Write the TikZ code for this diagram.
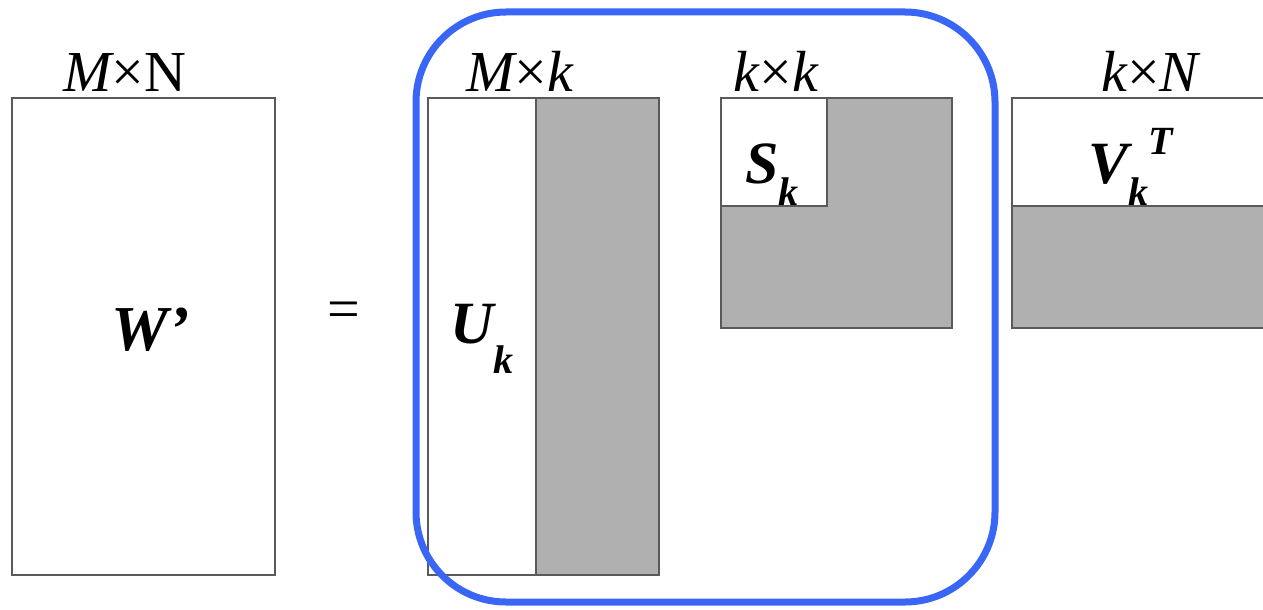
\documentclass[tikz,border=0pt]{standalone}
\usepackage{fontspec}
\setmainfont{Liberation Serif}
\definecolor{matgray}{HTML}{B0B0B0}
\definecolor{edgegray}{HTML}{5A5A5A}
\definecolor{boxblue}{HTML}{3A66F5}
\tikzset{
  matrixbox/.style={draw=edgegray, line width=1.6pt},
  graypart/.style={fill=matgray, draw=edgegray, line width=1.6pt},
  dimlabel/.style={inner sep=0pt, anchor=base, font=\fontsize{58}{64}\selectfont},
  namelabel/.style={inner sep=0pt, anchor=base west, font=\fontsize{60}{66}\selectfont\bfseries\itshape},
  groupbox/.style={draw=boxblue, line width=7pt, rounded corners=90pt}
}
\newcommand{\subk}[1]{\raisebox{-#1em}{\fontsize{40}{42}\selectfont k}}
\begin{document}
\begin{tikzpicture}[x=1pt,y=-1pt]
\useasboundingbox (0,0) rectangle (1263,610);
\clip (0,0) rectangle (1263,610);
% W'
\draw[matrixbox] (12,98) rectangle (275,575);
\node[dimlabel] (dimW) at (125,92) {\itshape M\upshape ×N};
\node[inner sep=0pt, font=\fontsize{64}{70}\selectfont\bfseries\itshape] (nameW) at (151,330) {W’};
\node[inner sep=0pt, font=\fontsize{58}{64}\selectfont] (eq) at (344,315) {=};
% U_k
\fill[white] (428,98) rectangle (536,575);
\draw[graypart] (536,98) rectangle (659,575);
\draw[matrixbox] (428,98) rectangle (659,575);
\node[dimlabel] (dimU) at (520,92) {\itshape M\upshape ×\itshape k};
\node[namelabel] (nameU) at (450,343) {U\subk{0.5}};
% S_k
\draw[graypart] (721,98) rectangle (952,328);
\fill[white] (721,98) rectangle (827,206);
\draw[edgegray, line width=1.6pt] (721,206) -- (827,206) -- (827,98);
\draw[matrixbox] (721,98) rectangle (952,328);
\node[dimlabel] (dimS) at (776,92) {\itshape k\upshape ×\itshape k};
\node[namelabel] (nameS) at (745,183) {S\subk{0.38}};
% V_k^T
\draw[graypart] (1012,206) rectangle (1275,328);
\draw[matrixbox] (1012,98) rectangle (1275,328);
\node[dimlabel] (dimV) at (1150,92) {\itshape k\upshape ×\itshape N};
\node[namelabel] (nameV) at (1088,183) {V\subk{0.38}\raisebox{0.48em}{\fontsize{40}{42}\selectfont T}};
% group box
\draw[groupbox] (416,12) rectangle (995,602);
\end{tikzpicture}
\end{document}
